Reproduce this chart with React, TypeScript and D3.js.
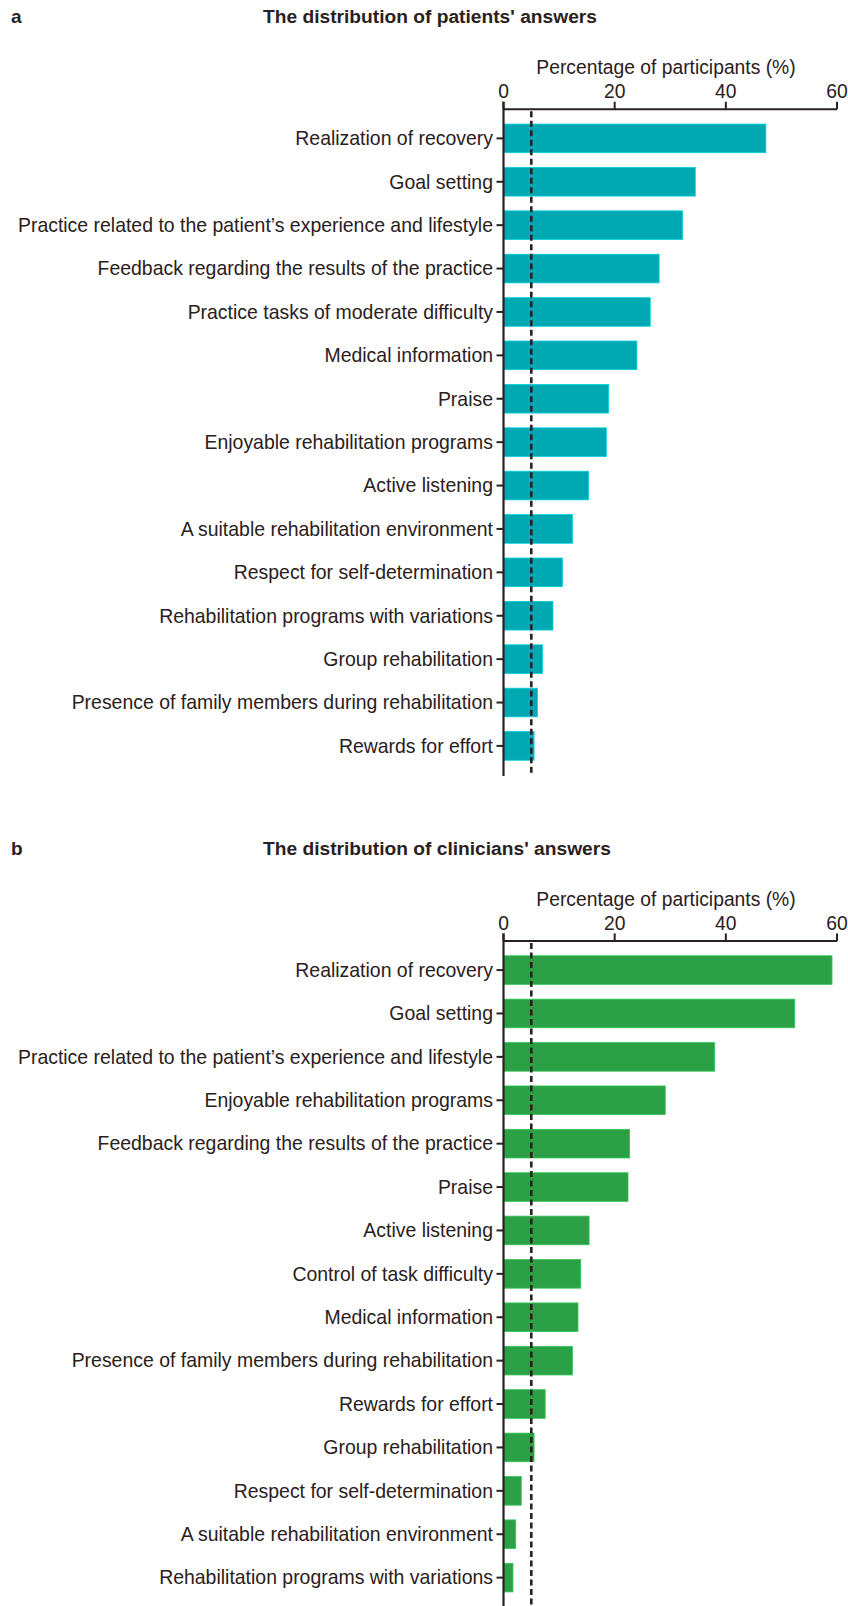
import React from "react";
import * as d3 from "d3";

const patientCategories = [
  "Realization of recovery",
  "Goal setting",
  "Practice related to the patient\u2019s experience and lifestyle",
  "Feedback regarding the results of the practice",
  "Practice tasks of moderate difficulty",
  "Medical information",
  "Praise",
  "Enjoyable rehabilitation programs",
  "Active listening",
  "A suitable rehabilitation environment",
  "Respect for self-determination",
  "Rehabilitation programs with variations",
  "Group rehabilitation",
  "Presence of family members during rehabilitation",
  "Rewards for effort",
];
const patientValues = [47.2, 34.5, 32.2, 28.0, 26.4, 24.0, 18.9, 18.5, 15.3, 12.4, 10.6, 8.9, 7.0, 6.1, 5.5];

const clinicianCategories = [
  "Realization of recovery",
  "Goal setting",
  "Practice related to the patient\u2019s experience and lifestyle",
  "Enjoyable rehabilitation programs",
  "Feedback regarding the results of the practice",
  "Praise",
  "Active listening",
  "Control of task difficulty",
  "Medical information",
  "Presence of family members during rehabilitation",
  "Rewards for effort",
  "Group rehabilitation",
  "Respect for self-determination",
  "A suitable rehabilitation environment",
  "Rehabilitation programs with variations",
];
const clinicianValues = [59.1, 52.4, 38.0, 29.1, 22.7, 22.4, 15.4, 13.9, 13.4, 12.4, 7.5, 5.5, 3.2, 2.2, 1.7];

const xTicks = [0, 20, 40, 60];
const threshold = 5;
const axisTitle = "Percentage of participants (%)";

const FONT = "'Liberation Sans', Arial, Helvetica, sans-serif";
const INK = "#2a2020";

type PanelProps = {
  offsetY: number;
  letter: string;
  title: string;
  categories: string[];
  values: number[];
  color: string;
};

function Panel({ offsetY, letter, title, categories, values, color }: PanelProps) {
  const axisY = 109.3;
  const bottomY = 775;
  const x = d3.scaleLinear().domain([0, 60]).range([503.5, 837]);
  const y = d3.scaleBand<string>().domain(categories).range([axisY, bottomY]).padding(0.34);
  return (
    <g transform={`translate(0,${offsetY})`} fontFamily={FONT}>
      <text x={11} y={23} fontSize={19} fontWeight="bold" fill={INK}>{letter}</text>
      <text x={263} y={23} fontSize={19.2} fontWeight="bold" fill={INK}>{title}</text>
      <text x={666} y={74} fontSize={19.3} textAnchor="middle" fill={INK}>{axisTitle}</text>
      {categories.map((c, i) => (
        <rect
          key={c}
          x={x(0)}
          y={y(c)!}
          width={x(values[i]) - x(0)}
          height={y.bandwidth()}
          fill={color}
          stroke={d3.color(color)!.brighter(0.6).formatHex()}
          strokeWidth={0.8}
        />
      ))}
      <line
        x1={x(threshold)}
        x2={x(threshold)}
        y1={axisY + 2}
        y2={bottomY - 2}
        stroke={INK}
        strokeWidth={2.6}
        strokeDasharray="6,3.5"
      />
      <line x1={x(0)} x2={x(60)} y1={axisY} y2={axisY} stroke={INK} strokeWidth={2} />
      <line x1={x(0)} x2={x(0)} y1={axisY - 7.6} y2={bottomY + 1} stroke={INK} strokeWidth={2.2} />
      {xTicks.map((t) => (
        <g key={t}>
          <line x1={x(t)} x2={x(t)} y1={axisY - 7.6} y2={axisY} stroke={INK} strokeWidth={2} />
          <text x={x(t)} y={98.3} fontSize={19.3} textAnchor="middle" fill={INK}>{t}</text>
        </g>
      ))}
      {categories.map((c) => {
        const cy = y(c)! + y.bandwidth() / 2;
        return (
          <g key={"l" + c}>
            <line x1={x(0) - 7} x2={x(0)} y1={cy} y2={cy} stroke={INK} strokeWidth={2} />
            <text x={x(0) - 10.5} y={cy} dy="0.35em" fontSize={19.45} textAnchor="end" fill={INK}>{c}</text>
          </g>
        );
      })}
    </g>
  );
}

export default function App() {
  return (
    <svg
      width={848}
      height={1606}
      style={{ position: "absolute", left: 0, top: 0, display: "block", background: "#fff" }}
    >
      <rect width={848} height={1606} fill="#fff" />
      <Panel
        offsetY={0}
        letter="a"
        title="The distribution of patients' answers"
        categories={patientCategories}
        values={patientValues}
        color="#00a9b1"
      />
      <Panel
        offsetY={831.7}
        letter="b"
        title="The distribution of clinicians' answers"
        categories={clinicianCategories}
        values={clinicianValues}
        color="#2ca046"
      />
    </svg>
  );
}
